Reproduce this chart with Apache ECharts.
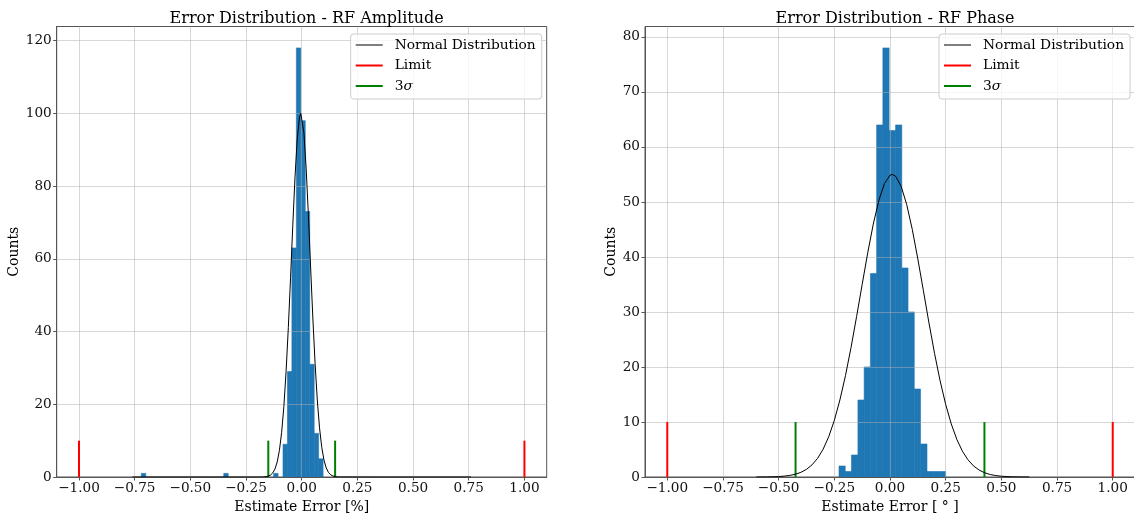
<!DOCTYPE html>
<html><head><meta charset="utf-8">
<script src="https://cdn.jsdelivr.net/npm/echarts@6/dist/echarts.min.js"></script>
<style>html,body{margin:0;padding:0;background:#fff}#c{width:1134px;height:515px}</style>
</head><body><div id="c"></div>
<script>
// ---------- data ----------
const ampBinLeft  = [-0.720, -0.350, -0.126, -0.084, -0.064, -0.044, -0.024, -0.004, 0.016, 0.036, 0.056, 0.076];
const ampBinRight = [-0.700, -0.330, -0.106, -0.064, -0.044, -0.024, -0.004, 0.016, 0.036, 0.056, 0.076, 0.096];
const ampCounts   = [1, 1, 1, 9, 29, 63, 118, 98, 73, 31, 12, 5];

const ampCurveX = [-0.76, -0.40, -0.20, -0.19, -0.18, -0.17, -0.16, -0.15, -0.14, -0.13, -0.12, -0.11, -0.10, -0.09, -0.08, -0.07, -0.06, -0.05, -0.04, -0.03, -0.02, -0.01, -0.004, 0.00, 0.01, 0.02, 0.03, 0.04, 0.05, 0.06, 0.07, 0.08, 0.09, 0.10, 0.11, 0.12, 0.13, 0.14, 0.15, 0.16, 0.17, 0.18, 0.40, 0.76];
const ampCurveY = [0, 0, 0, 0.01, 0.02, 0.04, 0.1, 0.24, 0.53, 1.11, 2.21, 4.14, 7.34, 12.29, 19.45, 29.09, 41.11, 54.89, 69.26, 82.56, 93.0, 98.98, 100, 99.55, 94.6, 84.93, 72.06, 57.77, 43.76, 31.32, 21.18, 13.53, 8.17, 4.66, 2.51, 1.28, 0.62, 0.28, 0.12, 0.05, 0.02, 0.01, 0, 0];

const phaseBinLeft  = [-0.229, -0.201, -0.173, -0.144, -0.116, -0.088, -0.060, -0.032, -0.004, 0.025, 0.053, 0.081, 0.109, 0.137, 0.166, 0.194, 0.222];
const phaseBinRight = [-0.201, -0.173, -0.144, -0.116, -0.088, -0.060, -0.032, -0.004, 0.025, 0.053, 0.081, 0.109, 0.137, 0.166, 0.194, 0.222, 0.250];
const phaseCounts   = [2, 1, 4, 14, 20, 37, 64, 78, 63, 64, 38, 30, 16, 6, 1, 1, 1];

const phaseCurveX = [-0.600, -0.575, -0.550, -0.525, -0.500, -0.475, -0.450, -0.425, -0.400, -0.375, -0.350, -0.325, -0.300, -0.275, -0.250, -0.225, -0.200, -0.175, -0.150, -0.125, -0.100, -0.075, -0.050, -0.025, 0.000, 0.010, 0.025, 0.050, 0.075, 0.100, 0.125, 0.150, 0.175, 0.200, 0.225, 0.250, 0.275, 0.300, 0.325, 0.350, 0.375, 0.400, 0.425, 0.450, 0.475, 0.500, 0.525, 0.550, 0.575, 0.600, 0.625];
const phaseCurveY = [0.005, 0.011, 0.023, 0.045, 0.087, 0.161, 0.29, 0.50, 0.85, 1.39, 2.21, 3.40, 5.07, 7.34, 10.29, 13.99, 18.42, 23.54, 29.15, 35.0, 40.75, 45.98, 50.30, 53.36, 54.86, 55.0, 54.69, 52.86, 49.53, 45.02, 39.63, 33.86, 28.0, 22.48, 17.48, 13.19, 9.65, 6.84, 4.70, 3.13, 2.02, 1.26, 0.77, 0.45, 0.26, 0.14, 0.076, 0.040, 0.020, 0.010, 0.005];

const limitX = [-1, 1];
const ampSigma3X = [-0.150, 0.150];
const phaseSigma3X = [-0.424, 0.424];
const markerTop = 10;

const xTicks = [-1, -0.75, -0.5, -0.25, 0, 0.25, 0.5, 0.75, 1];
const ampYTicks = [0, 20, 40, 60, 80, 100, 120];
const phaseYTicks = [0, 10, 20, 30, 40, 50, 60, 70, 80];

const titles = ['Error Distribution - RF Amplitude', 'Error Distribution - RF Phase'];
const xNames = ['Estimate Error [%]', 'Estimate Error [ \u00B0 ]'];
const yName = 'Counts';
const legendNames = ['Normal Distribution', 'Limit', '3\u03C3'];

// ---------- chart ----------
const F = 'DejaVu Serif';
const BLUE = '#1f77b4', RED = '#ff0000', GREEN = '#008000';
const SPINE = '#555';
const GRIDC = 'rgba(176,176,176,0.5)';
const grids = [
  {left: 56.7, top: 26.5, width: 490, height: 450.5},
  {left: 645, top: 26.5, width: 490, height: 450.5}
];
const yMax = [123.9, 81.9];
const yNameGap = [26.5, 21.5];

function fmtX(v) {
  return (Math.abs(v) < 1e-9 ? 0 : v).toFixed(2).replace('-', '\u2212');
}

function xAxisCfg(gi) {
  return {
    type: 'value', gridIndex: gi, min: -1.1, max: 1.1, z: 3,
    name: xNames[gi], nameLocation: 'middle', nameGap: 14.5,
    nameTextStyle: {fontFamily: F, fontSize: 14, color: '#000'},
    axisLine: {show: true, onZero: false, lineStyle: {color: SPINE, width: 1}},
    axisTick: {show: true, customValues: xTicks, length: 3.5, lineStyle: {color: SPINE}},
    axisLabel: {customValues: xTicks, formatter: fmtX, fontFamily: F, fontSize: 13.6, color: '#111', margin: 4.5},
    splitLine: {show: true, lineStyle: {color: GRIDC, width: 1}}
  };
}
function yAxisCfg(gi, ticks) {
  return {
    type: 'value', gridIndex: gi, min: 0, max: yMax[gi], z: 3,
    name: yName, nameLocation: 'middle', nameGap: yNameGap[gi], nameRotate: 90,
    nameTextStyle: {fontFamily: F, fontSize: 14, color: '#000'},
    axisLine: {show: true, onZero: false, lineStyle: {color: SPINE, width: 1}},
    axisTick: {show: true, customValues: ticks, length: 3.5, lineStyle: {color: SPINE}},
    axisLabel: {customValues: ticks, fontFamily: F, fontSize: 13.6, color: '#111', margin: 5},
    splitLine: {show: true, lineStyle: {color: GRIDC, width: 1}}
  };
}

function histRender(params, api) {
  const p0 = api.coord([api.value(0), api.value(2)]);
  const p1 = api.coord([api.value(1), 0]);
  return {type: 'rect', shape: {x: p0[0], y: p0[1], width: p1[0] - p0[0], height: p1[1] - p0[1]},
          style: {fill: BLUE, stroke: BLUE, lineWidth: 0.6}};
}
function vlineRender(color) {
  return function (params, api) {
    const a = api.coord([api.value(0), 0]);
    const b = api.coord([api.value(0), api.value(1)]);
    return {type: 'line', shape: {x1: a[0], y1: a[1], x2: b[0], y2: b[1]},
            style: {stroke: color, lineWidth: 2}};
  };
}

function seriesFor(gi, binL, binR, counts, cx, cy, sig) {
  return [
    {type: 'custom', name: 'hist' + gi, xAxisIndex: gi, yAxisIndex: gi, z: 2,
     renderItem: histRender, encode: {x: [0, 1], y: 2},
     data: counts.map((c, i) => [binL[i], binR[i], c]), itemStyle: {color: BLUE}},
    {type: 'line', name: legendNames[0], xAxisIndex: gi, yAxisIndex: gi, z: 4,
     showSymbol: false, symbol: 'none', color: '#000',
     lineStyle: {color: '#000', width: 1},
     data: cx.map((x, i) => [x, cy[i]])},
    {type: 'custom', name: legendNames[1], xAxisIndex: gi, yAxisIndex: gi, z: 4,
     renderItem: vlineRender(RED), encode: {x: 0, y: 1}, itemStyle: {color: RED},
     data: limitX.map(x => [x, markerTop])},
    {type: 'custom', name: legendNames[2], xAxisIndex: gi, yAxisIndex: gi, z: 4,
     renderItem: vlineRender(GREEN), encode: {x: 0, y: 1}, itemStyle: {color: GREEN},
     data: sig.map(x => [x, markerTop])}
  ];
}

function legendCfg(left) {
  return {
    left: left, top: 34, orient: 'vertical', z: 10,
    itemWidth: 27, itemHeight: 2, itemGap: 4.5,
    padding: [3, 6, 5, 5],
    backgroundColor: 'rgba(255,255,255,0.8)', borderColor: '#ccc', borderWidth: 1, borderRadius: 3,
    selectedMode: false,
    textStyle: {fontFamily: F, fontSize: 13.8, color: '#000', padding: [0, 0, 0, 7], lineHeight: 16,
                rich: {i: {fontFamily: F, fontSize: 13.8, fontStyle: 'italic', color: '#000'}}},
    formatter: n => n === legendNames[2] ? '3{i|\u03C3}' : n,
    data: [
      {name: legendNames[0], icon: 'rect', itemStyle: {color: '#7f7f7f'}},
      {name: legendNames[1], icon: 'rect', itemStyle: {color: RED}},
      {name: legendNames[2], icon: 'rect', itemStyle: {color: GREEN}}
    ]
  };
}

const chart = echarts.init(document.getElementById('c'), null, {renderer: 'canvas'});
chart.setOption({
  animation: false,
  backgroundColor: '#fff',
  title: titles.map((t, i) => ({
    text: t, left: grids[i].left + grids[i].width / 2, top: 6, textAlign: 'center',
    textStyle: {fontFamily: F, fontSize: 16, fontWeight: 'normal', color: '#000'}
  })),
  legend: [legendCfg(350.7), legendCfg(939)],
  grid: grids.map(g => Object.assign({show: true, borderColor: SPINE, borderWidth: 1, backgroundColor: '#fff',
                                      containLabel: false, outerBoundsMode: 'none'}, g)),
  xAxis: [xAxisCfg(0), xAxisCfg(1)],
  yAxis: [yAxisCfg(0, ampYTicks), yAxisCfg(1, phaseYTicks)],
  series: [].concat(
    seriesFor(0, ampBinLeft, ampBinRight, ampCounts, ampCurveX, ampCurveY, ampSigma3X),
    seriesFor(1, phaseBinLeft, phaseBinRight, phaseCounts, phaseCurveX, phaseCurveY, phaseSigma3X)
  )
});
</script>
</body></html>
